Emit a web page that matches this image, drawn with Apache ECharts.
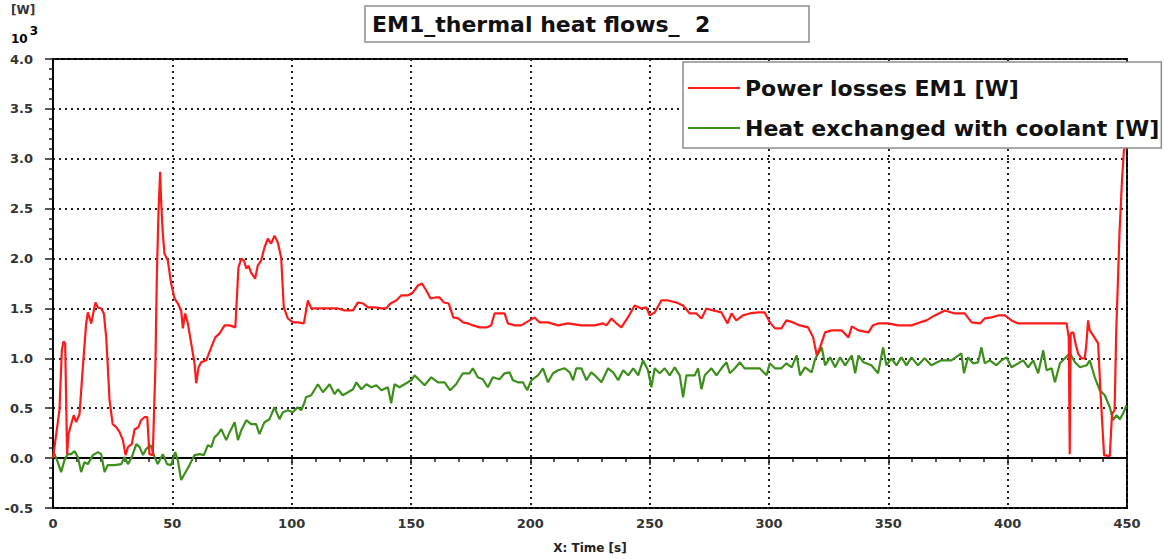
<!DOCTYPE html>
<html>
<head>
<meta charset="utf-8">
<script src="https://cdn.jsdelivr.net/npm/echarts@6/dist/echarts.min.js"></script>
<style>
html,body{margin:0;padding:0;background:#fff;}
#chart{width:1164px;height:559px;}
</style>
</head>
<body>
<div id="chart"></div>
<script>
// ---- Data (time in s, values in 10^3 W) ----
const titleText = 'EM1_thermal heat flows_  2';
const seriesNames = ['Power losses EM1 [W]', 'Heat exchanged with coolant [W]'];
const xTickValues = [0, 50, 100, 150, 200, 250, 300, 350, 400, 450];
const yTickValues = [-0.5, 0.0, 0.5, 1.0, 1.5, 2.0, 2.5, 3.0, 3.5, 4.0];

const lossTime = [0,2.7,3.7,4.4,5.1,5.9,6.5,7.6,8.7,9.7,11.1,12.5,13.9,14.6,16,17.1,17.8,18.8,20.2,21.3,22.3,23.7,25,26.5,27.9,29.3,30.4,31.4,33,34.2,35.8,36.9,38.3,39.5,40.4,41.8,42.9,43.5,44.2,44.9,45.3,46,46.7,48.1,49.5,50.9,52.3,53.7,54.4,55.4,56.5,57.9,59.3,60,61,62.1,64.2,66.3,68,69.8,71.9,74,76.4,77.7,78.9,80,81,81.9,83,84.7,85.8,87.2,88.6,90,91.4,92.8,94.2,95.6,96.7,98.4,100.5,102.6,105.1,106.8,108.2,110.3,113.8,116.6,119.4,122.2,125.7,127.8,129.9,132,134.8,137.6,139.6,141.4,143.8,145.9,148.7,150.8,152.9,154.6,156.4,158.2,160.2,162,163.8,165.8,167.7,169.8,171.8,173.9,176,178.8,181.6,183.6,185,187.8,189.2,190.6,193.4,196.2,198.3,201.8,203.9,207.4,211.6,215.8,221.4,224.2,227,230.5,231.9,234,236.1,238.1,240.9,243.7,246.5,248.6,250,252.1,254.9,257.7,261.2,264,266.8,269.6,271.7,273.8,276.6,280.1,282.6,284.3,286.3,289.1,291.9,295.4,298.2,300.4,302.5,305.2,307.3,310.1,312.9,316.4,318.5,320,321.4,323.5,326.3,330.5,333.3,334.7,337.5,341.7,343.5,345.7,349.9,354.1,359.7,363.2,366,369.5,373.7,377.8,382,384.9,388.4,390.4,393.3,396,398.9,401.6,404.4,410,417,424.7,425.6,426.0,426.4,427.5,428.4,429.5,430.9,432.3,433,433.7,434.4,435.8,437.9,439,440.4,442.8,443.7,444.8,445.5,446.9,447.9,448.7,450];
const lossValue = [0,0.48,1.08,1.17,1.15,0.04,0.24,0.34,0.43,0.36,0.44,0.91,1.35,1.46,1.35,1.48,1.56,1.51,1.50,1.45,1.21,0.58,0.34,0.31,0.26,0.18,0.03,0.11,0.14,0.29,0.31,0.38,0.41,0.41,0.04,0.03,0.91,1.81,2.47,2.87,2.58,2.25,2.05,1.98,1.75,1.60,1.55,1.48,1.30,1.45,1.35,1.15,0.95,0.75,0.91,0.96,0.98,1.11,1.21,1.25,1.33,1.33,1.31,1.91,2.00,1.98,1.90,1.93,1.86,1.80,1.93,1.98,2.11,2.20,2.15,2.23,2.16,2.01,1.51,1.40,1.36,1.36,1.35,1.58,1.50,1.50,1.50,1.50,1.50,1.48,1.48,1.56,1.55,1.51,1.51,1.50,1.50,1.55,1.58,1.63,1.63,1.66,1.73,1.75,1.68,1.60,1.61,1.61,1.56,1.55,1.41,1.40,1.36,1.35,1.33,1.31,1.31,1.33,1.45,1.45,1.45,1.35,1.33,1.33,1.36,1.41,1.36,1.36,1.33,1.35,1.33,1.33,1.33,1.35,1.33,1.40,1.35,1.31,1.41,1.53,1.50,1.51,1.43,1.46,1.58,1.58,1.56,1.53,1.45,1.45,1.40,1.50,1.48,1.46,1.35,1.45,1.38,1.43,1.45,1.46,1.46,1.36,1.30,1.30,1.38,1.36,1.33,1.31,1.21,1.03,1.11,1.26,1.28,1.28,1.21,1.32,1.28,1.26,1.33,1.35,1.35,1.33,1.33,1.36,1.38,1.43,1.48,1.45,1.45,1.36,1.35,1.40,1.41,1.43,1.43,1.38,1.35,1.35,1.35,1.35,1.21,0.04,1.25,1.26,1.15,1.05,1.00,1.00,1.15,1.38,1.28,1.23,1.15,0.61,0.03,0.02,0.44,0.48,1.28,2.28,2.78,3.08,3.18];

const heatTime = [0.3,2,3.4,4.8,6.2,7.6,9,10.4,11.8,13.2,14.6,16.7,17.4,18.8,20.2,21.6,22.9,25.8,28.6,29.9,31.4,33,34.9,36.3,37.7,39,40.9,42.6,43.9,46,47.8,49.5,51.2,52.3,53.7,55.1,57.2,59.3,61.4,63.2,64.9,66.3,67.7,69.1,70.5,72.6,74,76.1,77.5,78.9,81,83,85.1,86.5,88.6,90.7,92.8,94.9,96.3,98.4,100.5,102.5,104,105.4,106,108.2,111,113.1,115.9,118,119.4,121.4,123.6,125.7,127.1,129.2,131.3,133.4,135.5,137.6,140.3,141.7,143.1,145.2,147.3,150.1,151.5,153.6,155.7,158.5,161.3,164.1,166.4,168.9,171.7,174.5,175.9,178,180.1,182.2,184.3,187.1,189.2,191.3,192.7,194.8,196.9,198.7,200.4,203.2,205.3,207.4,209.5,211.6,214.4,216.5,217.9,219.3,221.4,223.5,225.5,227,229.8,232.6,234.7,236.8,238.9,241,243.1,245.2,247.2,249.3,250.7,252.1,254.2,256.3,258.4,260.5,262.6,264,265.4,268.9,270.3,271.7,273.1,275.9,278,280.1,282.2,283.6,285.7,287.8,289.8,292.6,296.1,299,300.3,302.5,305.2,307.3,309.5,311.6,313,315.1,317.9,319.3,322.1,323.5,325.6,327.7,329.8,331.9,334.7,336.1,337.5,339.6,342.9,345.7,347.8,349.2,351.3,353.4,355.5,357.6,359.7,362.4,365.2,368,372.2,376.4,380.6,381.7,383.4,385.5,387.6,389,390.4,392.5,395.3,397.4,399.5,401.6,404.4,406.5,408.6,410.7,412.8,414.9,416.3,418.4,419.8,421.9,424,426.1,428.2,430.3,433.1,434.4,436.5,438.6,440.7,442.8,444.2,445.6,447,448.4,449.8];
const heatValue = [0.06,-0.04,-0.14,-0.02,0.04,0.04,0.07,0.01,-0.14,-0.04,-0.06,0.03,0.04,0.06,0.04,-0.14,-0.07,-0.07,-0.06,0.01,-0.06,0.01,0.14,0.11,0.03,0.09,0.13,0.01,-0.06,0.04,-0.06,-0.07,0.06,-0.02,-0.22,-0.16,-0.07,0.03,0.04,0.03,0.13,0.11,0.21,0.24,0.29,0.18,0.26,0.36,0.18,0.28,0.38,0.34,0.34,0.24,0.36,0.39,0.51,0.39,0.46,0.48,0.46,0.51,0.48,0.56,0.61,0.63,0.74,0.66,0.74,0.64,0.69,0.63,0.66,0.69,0.76,0.69,0.74,0.71,0.73,0.68,0.71,0.55,0.74,0.71,0.74,0.78,0.83,0.78,0.73,0.81,0.76,0.76,0.68,0.74,0.85,0.85,0.90,0.81,0.79,0.71,0.81,0.79,0.85,0.86,0.78,0.76,0.76,0.68,0.78,0.83,0.90,0.76,0.85,0.88,0.90,0.86,0.78,0.90,0.90,0.78,0.86,0.83,0.76,0.90,0.86,0.78,0.88,0.83,0.90,0.83,0.98,0.88,0.71,0.90,0.85,0.90,0.83,0.91,0.83,0.61,0.83,0.83,0.90,0.69,0.83,0.90,0.83,0.90,0.96,0.85,0.90,0.96,0.90,0.90,0.90,0.83,0.95,0.90,0.90,0.95,0.91,1.03,0.83,0.91,0.86,0.99,1.11,0.93,1.01,0.91,1.01,0.93,1.03,0.85,1.03,0.96,0.93,0.85,1.11,0.93,1.00,0.93,1.01,0.93,1.01,0.93,1.00,0.93,0.98,0.98,1.05,0.85,1.01,0.95,0.96,1.11,0.95,0.98,0.93,0.98,1.01,0.91,0.95,0.98,0.91,0.98,0.85,1.08,0.88,0.90,0.76,0.95,1.00,1.05,0.96,0.91,0.93,0.98,0.81,0.68,0.63,0.51,0.38,0.43,0.39,0.45,0.53];

const zip = (a, b) => a.map((t, i) => [t, b[i]]);

const chart = echarts.init(document.getElementById('chart'), null, {renderer: 'svg'});
const FONT = 'DejaVu Sans';

const option = {
  backgroundColor: '#ffffff',
  animation: false,
  title: {
    text: titleText,
    left: 365,
    top: 6,
    padding: [6, 99, 6, 7],
    borderColor: '#8c8c8c',
    borderWidth: 1.5,
    backgroundColor: '#fff',
    textStyle: {fontFamily: FONT, fontSize: 22, fontWeight: 'bold', color: '#111', lineHeight: 24}
  },
  legend: {
    orient: 'vertical',
    left: 683,
    top: 62,
    padding: [14, 2, 8, 5],
    itemGap: 16,
    itemWidth: 52,
    itemHeight: 2,
    icon: 'rect',
    backgroundColor: '#fff',
    borderColor: '#8c8c8c',
    borderWidth: 1.5,
    textStyle: {fontFamily: FONT, fontSize: 22, fontWeight: 'bold', color: '#111', lineHeight: 24},
    data: seriesNames
  },
  graphic: [
    {type: 'text', left: 11, top: 4, style: {text: '[W]', font: 'bold 12px "DejaVu Sans"', fill: '#333'}},
    {type: 'text', left: 11, top: 25, style: {
      text: '{b|10}{s|3}', rich: {
        b: {fontFamily: FONT, fontSize: 12, fontWeight: 'bold', color: '#333', verticalAlign: 'bottom', padding: [8,2,0,0]},
        s: {fontFamily: FONT, fontSize: 12, fontWeight: 'bold', color: '#333', verticalAlign: 'top', padding: [0,0,6,0]}
      }}}
  ],
  grid: {
    left: 53, right: 37, top: 59, bottom: 51,
    show: true, borderColor: '#000', borderWidth: 2, backgroundColor: 'transparent'
  },
  xAxis: {
    type: 'value', min: 0, max: 450, interval: 50,
    name: 'X: Time [s]', nameLocation: 'middle', nameGap: 34,
    nameTextStyle: {fontFamily: FONT, fontSize: 12, fontWeight: 'bold', color: '#222'},
    axisLine: {show: true, lineStyle: {color: '#000', width: 2}},
    axisTick: {show: true, inside: false, length: 7, lineStyle: {color: '#222', width: 1.5}},
    minorTick: {show: true, splitNumber: 5, length: 4, lineStyle: {color: '#222', width: 1.5}},
    axisLabel: {margin: 9, fontFamily: FONT, fontSize: 13, fontWeight: 'bold', color: '#333',
      customValues: xTickValues, formatter: v => String(v)},
    splitLine: {show: true, lineStyle: {color: '#222', width: 2, type: [2, 4]}}
  },
  yAxis: {
    type: 'value', min: -0.5, max: 4.0, interval: 0.5,
    axisLine: {show: true, lineStyle: {color: '#000', width: 2}},
    axisTick: {show: true, inside: false, length: 8, lineStyle: {color: '#222', width: 1.5}},
    minorTick: {show: true, splitNumber: 5, length: 4, lineStyle: {color: '#222', width: 1.5}},
    axisLabel: {margin: 20, fontFamily: FONT, fontSize: 13, fontWeight: 'bold', color: '#333',
      customValues: yTickValues, formatter: v => v.toFixed(1)},
    splitLine: {show: true, lineStyle: {color: '#222', width: 2, type: [2, 4]}}
  },
  series: [
    {
      name: seriesNames[0], type: 'line', data: zip(lossTime, lossValue),
      symbol: 'none', lineStyle: {color: '#ff1a1a', width: 2.2}, itemStyle: {color: '#ff1a1a'},
      z: 3,
      markLine: {silent: true, symbol: 'none', label: {show: false},
        lineStyle: {color: '#000', width: 2, type: 'solid'}, data: [{yAxis: 0}], z: 1}
    },
    {
      name: seriesNames[1], type: 'line', data: zip(heatTime, heatValue),
      symbol: 'none', lineStyle: {color: '#3d8f1c', width: 2.2}, itemStyle: {color: '#3d8f1c'},
      z: 2
    }
  ]
};
chart.setOption(option);
</script>
</body>
</html>
